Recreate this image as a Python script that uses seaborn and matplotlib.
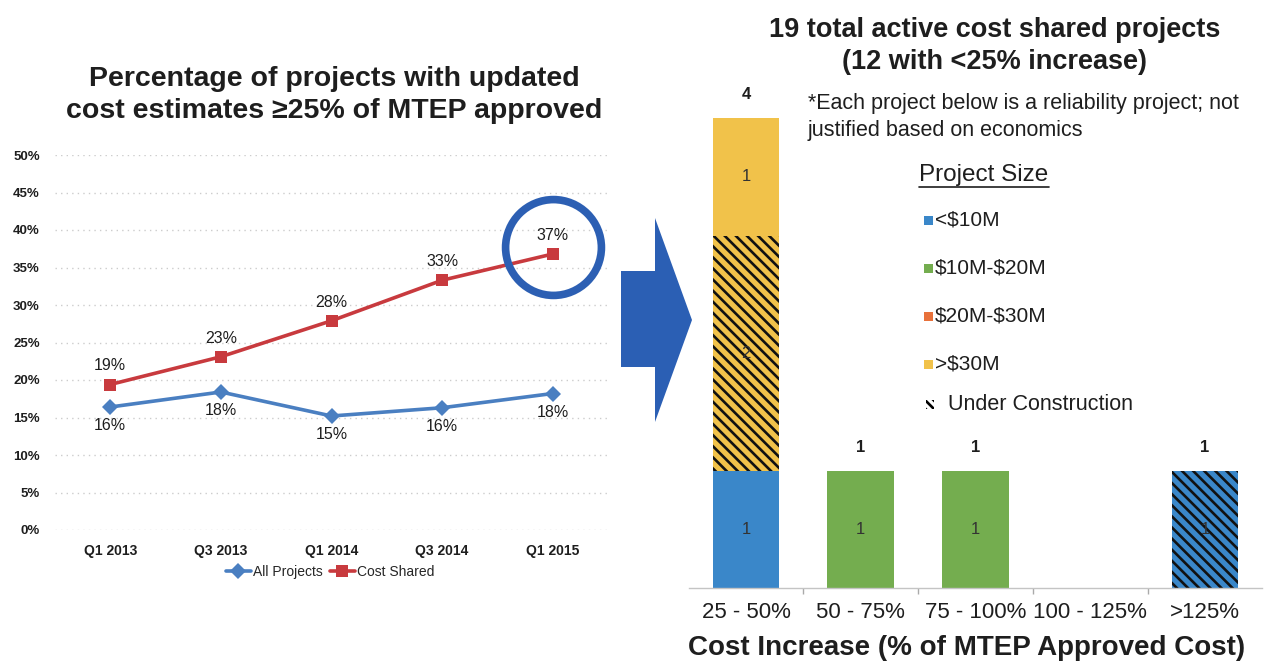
import matplotlib
matplotlib.use("Agg")
import matplotlib.pyplot as plt
from matplotlib.patches import Polygon, Rectangle
from matplotlib.lines import Line2D
import pandas as pd
import seaborn as sns

# ---------------- data ----------------
quarters = ["Q1 2013", "Q3 2013", "Q1 2014", "Q3 2014", "Q1 2015"]
all_projects = [16.4, 18.4, 15.2, 16.3, 18.2]
cost_shared = [19.4, 23.1, 27.9, 33.3, 36.8]
pct_ticks = [0, 5, 10, 15, 20, 25, 30, 35, 40, 45, 50]
series_names = ["All Projects", "Cost Shared"]

cost_bins = ["25 - 50%", "50 - 75%", "75 - 100%", "100 - 125%", ">125%"]
seg_bin = ["25 - 50%", "25 - 50%", "25 - 50%", "50 - 75%", "75 - 100%", ">125%"]
seg_size = ["<$10M", ">$30M", ">$30M", "$10M-$20M", "$10M-$20M", "<$10M"]
seg_construction = [False, True, False, False, False, True]
seg_count = [1, 2, 1, 1, 1, 1]
size_classes = ["<$10M", "$10M-$20M", "$20M-$30M", ">$30M"]
size_colors = ["#3a87c9", "#74ad4f", "#e8713b", "#f1c24a"]

# ---------------- style ----------------
W, H = 1271, 668
sns.set_theme(style="white")
plt.rcParams["font.family"] = ["Liberation Sans", "DejaVu Sans"]
plt.rcParams["hatch.linewidth"] = 1.9
TXT = "#1e1e1e"

fig = plt.figure(figsize=(W / 100, H / 100), dpi=100)
fig.patch.set_facecolor("white")


def fx(px):
    return px / W


def fy(py):
    return 1 - py / H


def esc(s):
    return s.replace("$", r"\$")


# ---------------- left chart ----------------
ax1 = fig.add_axes([fx(55), fy(530), fx(608) - fx(55), fy(155) - fy(530)])
df = pd.DataFrame({
    "quarter": quarters * 2,
    "pct": all_projects + cost_shared,
    "series": [series_names[0]] * len(quarters) + [series_names[1]] * len(quarters),
})
pal = {"All Projects": "#4a7fc1", "Cost Shared": "#c83a3e"}
sns.lineplot(data=df, x="quarter", y="pct", hue="series", style="series",
             markers={"All Projects": "D", "Cost Shared": "s"}, dashes=False,
             palette=pal, sort=False, linewidth=2.6, markersize=8.5,
             markeredgewidth=0, ax=ax1)
ax1.set_xlim(-0.5, len(quarters) - 0.5)
ax1.set_ylim(0, 50)
ax1.set_yticks(pct_ticks)
ax1.set_yticklabels([f"{t}%" for t in pct_ticks], fontsize=9.5, fontweight="bold", color=TXT)
for lab in ax1.get_xticklabels():
    lab.set_fontweight("bold")
    lab.set_fontsize(10)
    lab.set_color(TXT)
ax1.tick_params(axis="y", length=0, pad=11)
ax1.tick_params(axis="x", length=0, pad=10)
ax1.grid(axis="y", color="#cccccc", linestyle=(0, (1, 3)), linewidth=1)
ax1.grid(axis="x", visible=False)
for s in ax1.spines.values():
    s.set_visible(False)
ax1.set_xlabel("")
ax1.set_ylabel("")

for i, v in enumerate(cost_shared):
    ax1.annotate(f"{v:.0f}%", (i, v), xytext=(0, 8), textcoords="offset points",
                 ha="center", va="bottom", fontsize=11.5, color=TXT)
for i, v in enumerate(all_projects):
    ax1.annotate(f"{v:.0f}%", (i, v), xytext=(0, -8), textcoords="offset points",
                 ha="center", va="top", fontsize=11.5, color=TXT)

# highlight circle around the latest cost-shared value
ax1.plot([len(quarters) - 1], [cost_shared[-1] + 1.0], marker="o", ms=69,
         mfc="none", mec="#2c5fb3", mew=5.5, clip_on=False, zorder=5)

handles, labels = ax1.get_legend_handles_labels()
hl = [(h, l) for h, l in zip(handles, labels) if l in series_names]
ax1.legend([h for h, _ in hl], [l for _, l in hl], loc="center",
           bbox_to_anchor=(0.497, -0.112), ncol=2, frameon=False, fontsize=10,
           handlelength=1.8, handletextpad=0.15, columnspacing=0.5)

fig.text(fx(334), fy(95), "Percentage of projects with updated\ncost estimates \u226525% of MTEP approved",
         ha="center", va="center", fontsize=20.5, fontweight="bold", color=TXT, linespacing=1.35)

# ---------------- arrow ----------------
arrow_px = [(621, 271), (655, 271), (655, 218), (692, 320), (655, 422), (655, 367), (621, 367)]
fig.add_artist(Polygon([(fx(x), fy(y)) for x, y in arrow_px], closed=True,
                       facecolor="#2b5fb4", edgecolor="none", transform=fig.transFigure))

# ---------------- right chart ----------------
unit_px = 117.5
ymax = 4.2
ax2 = fig.add_axes([fx(688.6), fy(588), fx(1262.4) - fx(688.6), ymax * unit_px / H])
bottoms = {}
for b, sz, uc, n in zip(seg_bin, seg_size, seg_construction, seg_count):
    base = bottoms.get(b, 0)
    col = size_colors[size_classes.index(sz)]
    sns.barplot(x=[b], y=[n], order=cost_bins, color=col, saturation=1, width=0.58,
                bottom=base, hatch=("\\\\\\" if uc else None),
                edgecolor=("#111111" if uc else col), linewidth=0, errorbar=None, ax=ax2)
    ax2.text(cost_bins.index(b), base + n / 2, str(n), ha="center", va="center",
             fontsize=12, color="#333333", zorder=6)
    bottoms[b] = base + n

for i, b in enumerate(cost_bins):
    tot = bottoms.get(b, 0)
    if tot > 0:
        ax2.text(i, tot + 0.2, str(tot), ha="center", va="center", fontsize=12,
                 fontweight="bold", color=TXT)

ax2.set_xlim(-0.5, len(cost_bins) - 0.5)
ax2.set_ylim(0, ymax)
ax2.set_yticks([])
for k in ["left", "right", "top"]:
    ax2.spines[k].set_visible(False)
ax2.spines["bottom"].set_color("#c4c4c4")
ax2.spines["bottom"].set_linewidth(1)
ax2.set_xticks(range(len(cost_bins)))
ax2.set_xticklabels(cost_bins, fontsize=16, color=TXT)
ax2.set_xticks([i + 0.5 for i in range(len(cost_bins) - 1)], minor=True)
ax2.tick_params(axis="x", which="major", length=0, pad=10)
ax2.tick_params(axis="x", which="minor", length=4, color="#aaaaaa", width=1, bottom=True)
ax2.set_xlabel("")
ax2.set_ylabel("")

fig.text(fx(967), fy(648), "Cost Increase (% of MTEP Approved Cost)", ha="center", va="center",
         fontsize=20, fontweight="bold", color=TXT)
fig.text(fx(995), fy(46), "19 total active cost shared projects\n(12 with <25% increase)",
         ha="center", va="center", fontsize=19.5, fontweight="bold", color=TXT, linespacing=1.3)
fig.text(fx(808), fy(117), "*Each project below is a reliability project; not\njustified based on economics",
         ha="left", va="center", fontsize=15.5, color=TXT, linespacing=1.4)

# legend (project size)
ps = fig.text(fx(984), fy(175), "Project Size", ha="center", va="center", fontsize=17.5, color=TXT)
leg_y = [220, 268, 316, 364]
for cls, col, y in zip(size_classes, size_colors, leg_y):
    fig.add_artist(Rectangle((fx(924), fy(y + 4.5)), 9 / W, 9 / H, facecolor=col,
                             edgecolor="none", transform=fig.transFigure))
    fig.text(fx(935), fy(y), esc(cls), ha="left", va="center", fontsize=15, color=TXT)
fig.add_artist(Rectangle((fx(926), fy(409)), 8 / W, 9 / H, facecolor="white",
                         edgecolor="black", linewidth=0, hatch="\\\\\\\\",
                         transform=fig.transFigure))
fig.text(fx(948), fy(405), "Under Construction", ha="left", va="center", fontsize=15.5, color=TXT)

fig.canvas.draw()
bb = ps.get_window_extent()
fig.add_artist(Line2D([bb.x0 / W, bb.x1 / W], [(bb.y0 - 1) / H] * 2, color=TXT,
                      linewidth=1.2, transform=fig.transFigure))

fig.savefig("out.png", dpi=100, facecolor="white")
